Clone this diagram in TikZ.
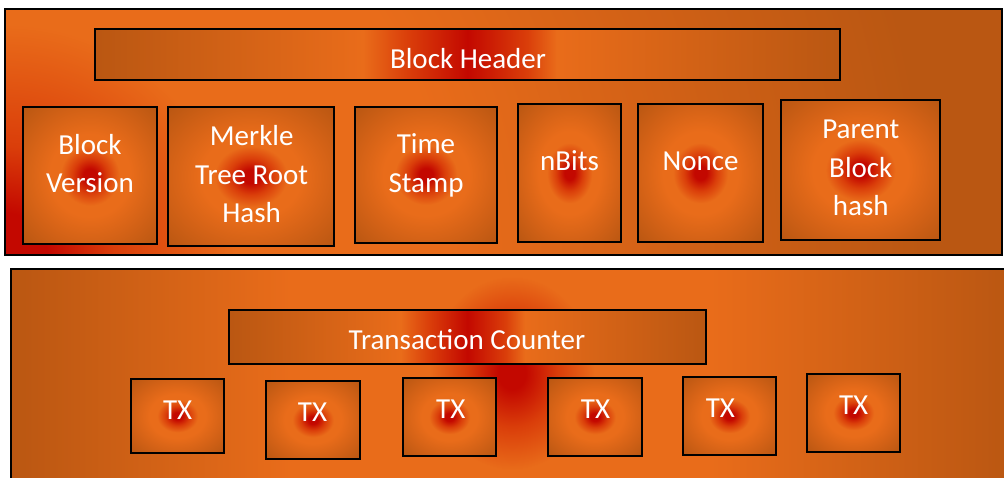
\documentclass[tikz,border=0pt]{standalone}
\usepackage{fontspec}
\setmainfont{Carlito}
\definecolor{cRed}{RGB}{195,8,0}
\definecolor{cRedO}{RGB}{218,62,10}
\definecolor{cOrange}{RGB}{233,108,26}
\definecolor{cOrangeM}{RGB}{210,97,22}
\definecolor{cBrown}{RGB}{186,87,18}
\pgfdeclareradialshading{cellglow}{\pgfpointorigin}{color(0bp)=(cRed); color(2.5bp)=(cRed); color(6.5bp)=(cRedO); color(11bp)=(cOrange); color(15bp)=(cOrange); color(25bp)=(cOrangeM); color(35bp)=(cBrown); color(50bp)=(cBrown)}
\pgfdeclareradialshading{cornerglow}{\pgfpointorigin}{color(0bp)=(cRed); color(1bp)=(cRed); color(2.6bp)=(cRedO); color(5.5bp)=(cOrange); color(10.5bp)=(cOrange); color(16bp)=(cOrangeM); color(22bp)=(cBrown); color(50bp)=(cBrown)}
\pgfdeclarehorizontalshading{hbar}{100bp}{color(0bp)=(cBrown); color(25bp)=(cBrown); color(43bp)=(cOrange); color(46bp)=(cRedO); color(50bp)=(cRed); color(54bp)=(cRedO); color(56bp)=(cOrange); color(75bp)=(cBrown); color(100bp)=(cBrown)}
\pgfdeclarehorizontalshading{band}{100bp}{color(0bp)=(cBrown); color(25bp)=(cBrown); color(39bp)=(cOrange); color(60bp)=(cOrange); color(75bp)=(cBrown); color(100bp)=(cBrown)}
\pgfdeclareradialshading{bigglow}{\pgfpointorigin}{color(0bp)=(cRed); color(3bp)=(cRed); color(10bp)=(cRedO); color(18bp)=(cOrange); color(50bp)=(cOrange)}
\tikzset{
  frame/.style={draw=black, line width=2pt, inner sep=0pt, outer sep=0pt},
  cell/.style={frame, shading=cellglow},
  bar/.style={frame, shading=hbar},
  lbl/.style={text=white, align=center, inner sep=0pt, font=\fontsize{29}{38.5}\selectfont},
}
\begin{document}
\begin{tikzpicture}[x=1pt,y=-1pt]
\clip (0,0) rectangle (1004,478);
\fill[white] (0,0) rectangle (1004,478);
% outer panels
\node[frame, minimum width=997pt, minimum height=246pt,
  path picture={\shade[shading=cornerglow] (path picture bounding box.south west) circle (1050pt);}]
  (top) at (503.5,132) {};
\node[frame, minimum width=999pt, minimum height=216pt,
  path picture={\shade[shading=band] (path picture bounding box.south west) rectangle (path picture bounding box.north east);
    \shade[shading=bigglow] ([shift={(1.5pt,4pt)}]path picture bounding box.center) ellipse (115pt and 135pt);}]
  (bot) at (510.5,377) {};
% header row
\node[bar, minimum width=745pt, minimum height=51pt] (hdr) at (467.5,54.5) {};
\node[cell, minimum width=134pt, minimum height=137pt] (bv) at (90,175.5) {};
\node[cell, minimum width=166pt, minimum height=139pt] (mk) at (251,176.5) {};
\node[cell, minimum width=142pt, minimum height=136pt] (ts) at (426,175) {};
\node[cell, minimum width=103pt, minimum height=138pt] (nb) at (569.5,173) {};
\node[cell, minimum width=125pt, minimum height=138pt] (nc) at (700.5,173) {};
\node[cell, minimum width=159pt, minimum height=140pt] (pb) at (860.5,170) {};
% transaction row
\node[bar, minimum width=477pt, minimum height=54pt] (tc) at (467.5,337) {};
\node[cell, minimum width=93pt, minimum height=74pt] (tx1) at (177.5,416) {};
\node[cell, minimum width=94pt, minimum height=78pt] (tx2) at (313,420) {};
\node[cell, minimum width=93pt, minimum height=78pt] (tx3) at (449.5,417) {};
\node[cell, minimum width=94pt, minimum height=78pt] (tx4) at (595,417) {};
\node[cell, minimum width=93pt, minimum height=78pt] (tx5) at (729.5,416) {};
\node[cell, minimum width=93pt, minimum height=78pt] (tx6) at (853.5,413) {};
% labels
\node[lbl] (hdrT) at (468,60.6) {Block Header\strut};
\node[lbl] (bvT) at (90,165.9) {Block\strut\\Version\strut};
\node[lbl] (mkT) at (251.7,176.7) {Merkle\strut\\Tree Root\strut\\Hash\strut};
\node[lbl] (tsT) at (426,165.4) {Time\strut\\Stamp\strut};
\node[lbl] (nbT) at (569.5,163.3) {nBits\strut};
\node[lbl] (ncT) at (700.5,163.3) {Nonce\strut};
\node[lbl] (pbT) at (860.8,169.5) {Parent\strut\\Block\strut\\hash\strut};
\node[lbl] (tcT) at (467,342.1) {Transaction Counter\strut};
\node[lbl] (tx1T) at (177.7,411.6) {TX\strut};
\node[lbl] (tx2T) at (312.5,413.8) {TX\strut};
\node[lbl] (tx3T) at (450.8,410.8) {TX\strut};
\node[lbl] (tx4T) at (595.5,410.8) {TX\strut};
\node[lbl] (tx5T) at (720.4,409.4) {TX\strut};
\node[lbl] (tx6T) at (853.6,406.6) {TX\strut};
\end{tikzpicture}
\end{document}
